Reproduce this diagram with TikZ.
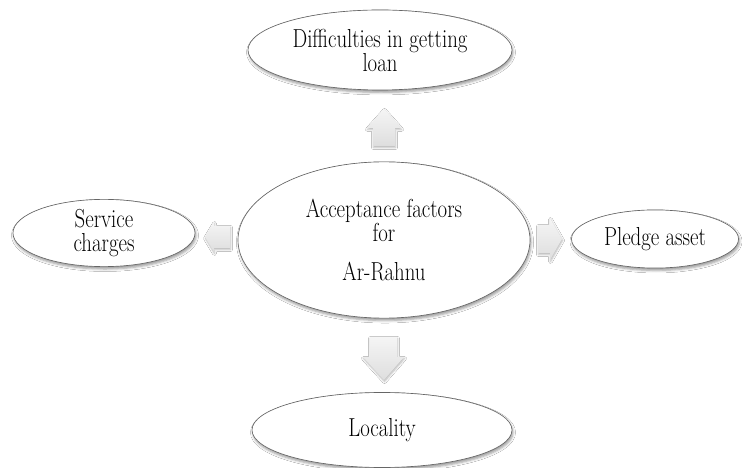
\documentclass[tikz,border=0pt]{standalone}
\usepackage{fontspec}
\usetikzlibrary{shapes.geometric,shadows.blur}
\newcommand\labfont{\rmfamily\fontsize{20.9pt}{19.3pt}\selectfont\lineskiplimit-50pt\relax}
\tikzset{
  bubble/.style={ellipse, draw=black!60, line width=0.65bp, fill=white,
    inner sep=0pt, align=center, yscale=1.25, transform shape,
    blur shadow={shadow xshift=1bp, shadow yshift=-2.4bp, shadow blur radius=2.5bp, shadow opacity=40},
    font=\labfont},
  blockarrow/.style={draw=none, top color=black!4, bottom color=black!13,
    blur shadow={shadow xshift=0.5bp, shadow yshift=-1.5bp, shadow blur radius=2bp, shadow opacity=30}}
}
\begin{document}
\begin{tikzpicture}[x=1bp,y=-1bp]
\useasboundingbox (0,0) rectangle (744,468);
\fill[white] (0,0) rectangle (744,468);
% nodes
\node[bubble, minimum width=264bp, minimum height=64bp] (diff) at (380,50) {Difficulties in getting\\loan};
\node[bubble, minimum width=292bp, minimum height=125bp] (acc) at (384,240) {Acceptance factors\\for\\[12bp]Ar-Rahnu};
\node[bubble, minimum width=182bp, minimum height=47bp] (serv) at (104,233) {Service\\charges};
\node[bubble, minimum width=167bp, minimum height=46.5bp] (pled) at (655,239) {Pledge asset};
\node[bubble, minimum width=260bp, minimum height=60bp] (loc) at (382,430) {Locality};
% block arrows
\path[blockarrow] (373,146) -- (373,128) -- (367,128) -- (384,109) -- (401,128) -- (395,128) -- (395,146) -- cycle;
\path[blockarrow] (230,226) -- (214,226) -- (214,222) -- (205,237) -- (214,252) -- (214,248) -- (230,248) -- cycle;
\path[blockarrow] (538,225) -- (550,225) -- (550,218) -- (562,239) -- (550,260) -- (550,253) -- (538,253) -- cycle;
\path[blockarrow] (370,337) -- (397,337) -- (397,357) -- (404,357) -- (384,380) -- (363,357) -- (370,357) -- cycle;
\end{tikzpicture}
\end{document}
